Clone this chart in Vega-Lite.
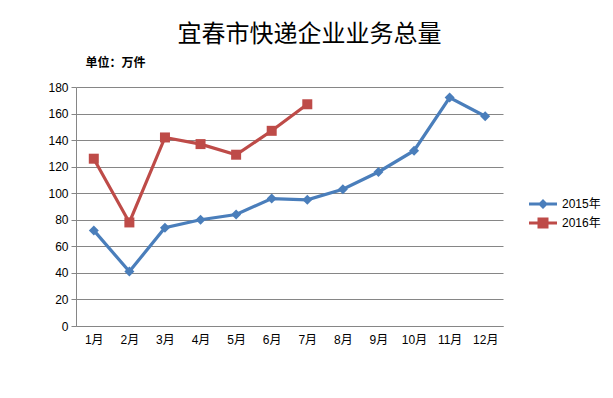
{
  "$schema": "https://vega.github.io/schema/vega-lite/v6.json",
  "width": 427,
  "height": 239,
  "autosize": {"type": "none"},
  "padding": {"left": 76, "top": 87, "right": 110, "bottom": 72},
  "background": "white",
  "title": {
    "text": "宜春市快递企业业务总量",
    "fontSize": 24,
    "fontWeight": "normal",
    "font": "Noto Sans CJK SC",
    "color": "#000000",
    "anchor": "middle",
    "dx": 20,
    "offset": 9
  },
  "config": {
    "view": {"stroke": null},
    "font": "Noto Sans CJK SC",
    "axis": {
      "labelFont": "Liberation Sans, Noto Sans CJK SC",
      "labelFontSize": 12,
      "labelColor": "#000000",
      "domainColor": "#868686",
      "gridColor": "#868686",
      "tickColor": "#868686"
    }
  },
  "data": {
    "values": [
      {"month": "1月", "series": "2015年", "value": 72},
      {"month": "2月", "series": "2015年", "value": 41},
      {"month": "3月", "series": "2015年", "value": 74},
      {"month": "4月", "series": "2015年", "value": 80},
      {"month": "5月", "series": "2015年", "value": 84},
      {"month": "6月", "series": "2015年", "value": 96},
      {"month": "7月", "series": "2015年", "value": 95},
      {"month": "8月", "series": "2015年", "value": 103},
      {"month": "9月", "series": "2015年", "value": 116},
      {"month": "10月", "series": "2015年", "value": 132},
      {"month": "11月", "series": "2015年", "value": 172},
      {"month": "12月", "series": "2015年", "value": 158},
      {"month": "1月", "series": "2016年", "value": 126},
      {"month": "2月", "series": "2016年", "value": 78},
      {"month": "3月", "series": "2016年", "value": 142},
      {"month": "4月", "series": "2016年", "value": 137},
      {"month": "5月", "series": "2016年", "value": 129},
      {"month": "6月", "series": "2016年", "value": 147},
      {"month": "7月", "series": "2016年", "value": 167}
    ]
  },
  "encoding": {
    "x": {
      "field": "month",
      "type": "ordinal",
      "sort": ["1月","2月","3月","4月","5月","6月","7月","8月","9月","10月","11月","12月"],
      "scale": {"type": "point", "padding": 0.5},
      "axis": {"title": null, "labelAngle": 0, "ticks": false, "labelPadding": 8, "grid": false}
    },
    "y": {
      "field": "value",
      "type": "quantitative",
      "scale": {"domain": [0, 180], "nice": false},
      "axis": {
        "values": [0,20,40,60,80,100,120,140,160,180],
        "tickSize": 5,
        "labelPadding": 3,
        "grid": true,
        "title": "单位：万件",
        "titleAngle": 0,
        "titleX": 9,
        "titleY": -25,
        "titleAlign": "left",
        "titleBaseline": "middle",
        "titleFontSize": 12,
        "titleFontWeight": "bold",
        "titleFont": "Noto Sans CJK SC",
        "titleColor": "#000000"
      }
    },
    "color": {
      "field": "series",
      "type": "nominal",
      "scale": {"domain": ["2015年", "2016年"], "range": ["#4A7EBB", "#BE4B48"]},
      "legend": {
        "orient": "none",
        "legendX": 461,
        "legendY": 111,
        "title": null,
        "symbolSize": 100,
        "symbolStrokeWidth": 0,
        "labelOffset": 13,
        "rowPadding": 7,
        "labelFontSize": 12,
        "labelFont": "Liberation Sans, Noto Sans CJK SC",
        "labelColor": "#000000",
        "encode": {
          "symbols": {
            "update": {
              "shape": {"signal": "datum.value === '2015年' ? 'M-2.8,-0.3H-0.7L0,-1L0.7,-0.3H2.8V0.3H0.7L0,1L-0.7,0.3H-2.8Z' : 'M-2.8,-0.3H-1.1V-1.1H1.1V-0.3H2.8V0.3H1.1V1.1H-1.1V0.3H-2.8Z'"},
              "fill": {"signal": "datum.value === '2015年' ? '#4A7EBB' : '#BE4B48'"},
              "fillOpacity": {"value": 1},
              "strokeWidth": {"value": 0},
              "opacity": {"value": 1}
            }
          }
        }
      }
    }
  },
  "layer": [
    {"mark": {"type": "line", "strokeWidth": 3.2}},
    {
      "mark": {"type": "point", "filled": true, "opacity": 1, "size": 100},
      "encoding": {
        "shape": {
          "condition": {"test": "datum.series === '2015年'", "value": "diamond"},
          "value": "square"
        }
      }
    }
  ]
}
